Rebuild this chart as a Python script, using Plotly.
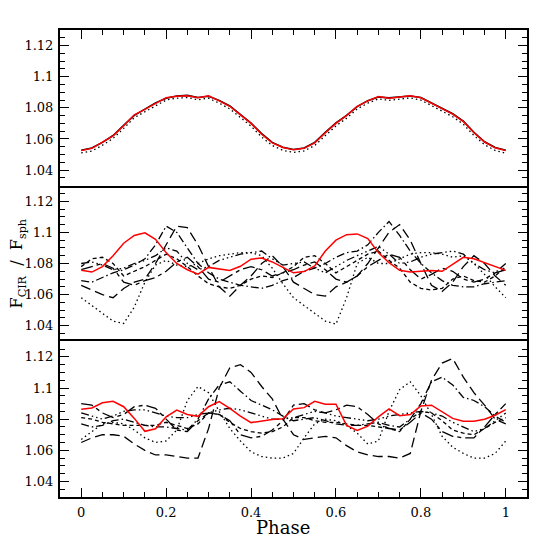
#!/usr/bin/env python3
"""
Flux ratio F_CIR / F_sph versus rotational phase, three stacked panels
"""

import plotly.graph_objs as go
from plotly.subplots import make_subplots

# phase grid shared by all curves
phase = [0.0, 0.025, 0.05, 0.075, 0.1, 0.125, 0.15, 0.175, 0.2, 0.225,
         0.25, 0.275, 0.3, 0.325, 0.35, 0.375, 0.4, 0.425, 0.45, 0.475,
         0.5, 0.525, 0.55, 0.575, 0.6, 0.625, 0.65, 0.675, 0.7, 0.725,
         0.75, 0.775, 0.8, 0.825, 0.85, 0.875, 0.9, 0.925, 0.95, 0.975, 1.0]

# --- top panel
top_red = [1.0525, 1.0540, 1.0580, 1.0620, 1.0685, 1.0755, 1.0790, 1.0830, 1.0865, 1.0875,
           1.0878, 1.0865, 1.0877, 1.0845, 1.0810, 1.0755, 1.0700, 1.0630, 1.0575, 1.0545,
           1.0530, 1.0540, 1.0575, 1.0640, 1.0700, 1.0750, 1.0810, 1.0845, 1.0872, 1.0862,
           1.0870, 1.0878, 1.0865, 1.0830, 1.0795, 1.0760, 1.0712, 1.0640, 1.0580, 1.0543, 1.0525]
top_black = [1.0528, 1.0542, 1.0578, 1.0622, 1.0688, 1.0752, 1.0792, 1.0832, 1.0862, 1.0876,
             1.0880, 1.0866, 1.0874, 1.0848, 1.0812, 1.0758, 1.0702, 1.0634, 1.0578, 1.0547,
             1.0532, 1.0542, 1.0578, 1.0642, 1.0703, 1.0752, 1.0808, 1.0846, 1.0870, 1.0864,
             1.0872, 1.0876, 1.0866, 1.0832, 1.0798, 1.0762, 1.0715, 1.0643, 1.0582, 1.0545, 1.0528]
top_dot = [1.0510, 1.0522, 1.0560, 1.0603, 1.0668, 1.0737, 1.0775, 1.0815, 1.0850, 1.0862,
           1.0866, 1.0852, 1.0862, 1.0830, 1.0793, 1.0738, 1.0682, 1.0612, 1.0558, 1.0527,
           1.0514, 1.0523, 1.0558, 1.0622, 1.0684, 1.0733, 1.0793, 1.0830, 1.0857, 1.0848,
           1.0857, 1.0864, 1.0850, 1.0815, 1.0779, 1.0743, 1.0695, 1.0622, 1.0563, 1.0526, 1.0508]

# --- middle panel
mid_red = [1.0756, 1.0745, 1.0780, 1.0850, 1.0930, 1.0980, 1.0997, 1.0955, 1.0870, 1.0800,
           1.0760, 1.0731, 1.0775, 1.0763, 1.0755, 1.0782, 1.0828, 1.0835, 1.0810, 1.0775,
           1.0740, 1.0748, 1.0785, 1.0880, 1.0950, 1.0985, 1.0990, 1.0960, 1.0870, 1.0805,
           1.0756, 1.0745, 1.0752, 1.0755, 1.0750, 1.0795, 1.0840, 1.0830, 1.0805, 1.0780, 1.0756]
mid_dot = [1.058, 1.053, 1.048, 1.043, 1.0415, 1.052, 1.068, 1.079, 1.082, 1.079,
           1.078, 1.080, 1.083, 1.085, 1.086, 1.087, 1.087, 1.085, 1.077, 1.067,
           1.058, 1.053, 1.048, 1.043, 1.041, 1.058, 1.080, 1.084, 1.080, 1.080,
           1.083, 1.086, 1.087, 1.087, 1.086, 1.084, 1.085, 1.080, 1.073, 1.065, 1.058]
mid_longdash = [1.066, 1.063, 1.060, 1.058, 1.064, 1.068, 1.070, 1.080, 1.092, 1.104,
                1.103, 1.092, 1.078, 1.065, 1.059, 1.066, 1.072, 1.080, 1.085, 1.078,
                1.068, 1.064, 1.060, 1.059, 1.065, 1.068, 1.072, 1.080, 1.090, 1.100,
                1.105, 1.095, 1.080, 1.066, 1.062, 1.068, 1.078, 1.085, 1.080, 1.072, 1.066]
mid_dashdot = [1.069, 1.068, 1.071, 1.074, 1.076, 1.079, 1.083, 1.092, 1.104, 1.100,
               1.090, 1.080, 1.074, 1.070, 1.068, 1.066, 1.065, 1.064, 1.066, 1.069,
               1.071, 1.075, 1.077, 1.080, 1.084, 1.087, 1.088, 1.092, 1.100, 1.107,
               1.098, 1.088, 1.080, 1.074, 1.069, 1.066, 1.065, 1.065, 1.067, 1.068, 1.069]
mid_shortdash = [1.078, 1.083, 1.084, 1.080, 1.072, 1.075, 1.078, 1.082, 1.086, 1.083,
                 1.078, 1.072, 1.067, 1.065, 1.064, 1.066, 1.070, 1.072, 1.071, 1.074,
                 1.078, 1.084, 1.085, 1.080, 1.074, 1.078, 1.082, 1.086, 1.088, 1.082,
                 1.077, 1.068, 1.064, 1.063, 1.064, 1.070, 1.072, 1.069, 1.068, 1.072, 1.078]
mid_dash3dot = [1.080, 1.081, 1.079, 1.076, 1.077, 1.080, 1.082, 1.085, 1.090, 1.088,
                1.080, 1.076, 1.078, 1.082, 1.084, 1.086, 1.087, 1.088, 1.083, 1.079,
                1.080, 1.081, 1.077, 1.074, 1.078, 1.082, 1.085, 1.088, 1.091, 1.086,
                1.080, 1.081, 1.084, 1.086, 1.087, 1.088, 1.086, 1.080, 1.076, 1.074, 1.080]
mid_longshort = [1.076, 1.078, 1.080, 1.077, 1.068, 1.066, 1.069, 1.071, 1.075, 1.081,
                 1.084, 1.078, 1.070, 1.068, 1.072, 1.076, 1.078, 1.076, 1.072, 1.074,
                 1.076, 1.079, 1.081, 1.076, 1.070, 1.068, 1.072, 1.078, 1.082, 1.086,
                 1.084, 1.076, 1.070, 1.073, 1.077, 1.075, 1.070, 1.068, 1.070, 1.074, 1.076]

# --- bottom panel
bot_red = [1.0863, 1.0872, 1.0905, 1.0915, 1.0880, 1.0805, 1.0722, 1.0738, 1.0815, 1.0858,
           1.0830, 1.0818, 1.0880, 1.0913, 1.0870, 1.0820, 1.0778, 1.0790, 1.0798, 1.0803,
           1.0865, 1.0874, 1.0915, 1.0896, 1.0896, 1.0760, 1.0728, 1.0755, 1.0815, 1.0866,
           1.0822, 1.0830, 1.0885, 1.0890, 1.0850, 1.0805, 1.0786, 1.0786, 1.0800, 1.0825, 1.0861]
bot_dot = [1.067, 1.072, 1.077, 1.078, 1.077, 1.073, 1.068, 1.065, 1.066, 1.073,
           1.092, 1.101, 1.097, 1.085, 1.074, 1.066, 1.059, 1.056, 1.055, 1.055,
           1.058, 1.068, 1.077, 1.080, 1.079, 1.076, 1.071, 1.064, 1.066, 1.085,
           1.099, 1.104, 1.095, 1.083, 1.069, 1.062, 1.058, 1.055, 1.055, 1.058, 1.066]
bot_longdash = [1.065, 1.068, 1.070, 1.070, 1.069, 1.064, 1.060, 1.057, 1.057, 1.056,
                1.055, 1.055, 1.074, 1.100, 1.113, 1.115, 1.110, 1.101, 1.093, 1.080,
                1.070, 1.067, 1.068, 1.069, 1.068, 1.063, 1.059, 1.057, 1.056, 1.056,
                1.055, 1.058, 1.085, 1.105, 1.116, 1.119, 1.107, 1.097, 1.089, 1.080, 1.077]
bot_dashdot = [1.077, 1.075, 1.076, 1.079, 1.080, 1.078, 1.076, 1.075, 1.075, 1.074,
               1.073, 1.080, 1.093, 1.102, 1.104, 1.098, 1.092, 1.089, 1.086, 1.082,
               1.079, 1.080, 1.081, 1.079, 1.077, 1.076, 1.076, 1.077, 1.078, 1.076,
               1.075, 1.080, 1.090, 1.104, 1.107, 1.102, 1.094, 1.092, 1.088, 1.082, 1.078]
bot_longshort = [1.090, 1.089, 1.084, 1.081, 1.083, 1.088, 1.089, 1.087, 1.080, 1.073,
                 1.072, 1.079, 1.084, 1.083, 1.079, 1.070, 1.068, 1.069, 1.073, 1.079,
                 1.089, 1.090, 1.086, 1.084, 1.086, 1.089, 1.088, 1.083, 1.077, 1.074,
                 1.073, 1.078, 1.084, 1.080, 1.072, 1.069, 1.068, 1.068, 1.075, 1.083, 1.090]
bot_dash3dot = [1.084, 1.082, 1.080, 1.082, 1.085, 1.086, 1.086, 1.084, 1.082, 1.081,
                1.081, 1.083, 1.084, 1.086, 1.087, 1.086, 1.084, 1.082, 1.080, 1.080,
                1.081, 1.083, 1.085, 1.084, 1.082, 1.081, 1.080, 1.079, 1.080, 1.082,
                1.083, 1.084, 1.085, 1.084, 1.082, 1.078, 1.075, 1.072, 1.074, 1.079, 1.084]
bot_shortdash = [1.081, 1.080, 1.078, 1.077, 1.076, 1.076, 1.076, 1.076, 1.078, 1.076,
                 1.074, 1.077, 1.084, 1.083, 1.078, 1.074, 1.072, 1.071, 1.072, 1.075,
                 1.081, 1.081, 1.079, 1.078, 1.078, 1.077, 1.076, 1.076, 1.075, 1.074,
                 1.072, 1.080, 1.085, 1.084, 1.079, 1.073, 1.071, 1.070, 1.074, 1.078, 1.081]

# axis ticks
x_tickvals = [0, 0.2, 0.4, 0.6, 0.8, 1]
x_ticktext = ['0', '0.2', '0.4', '0.6', '0.8', '1']
y_tickvals = [1.04, 1.06, 1.08, 1.1, 1.12]
y_ticktext = ['1.04', '1.06', '1.08', '1.1', '1.12']

# dash patterns
DOT = '1.5px,3px'
SHORT = '4px,3px'
LONG = '10px,5px'
DASHDOT = '8px,3px,1.5px,3px'
DASH3DOT = '8px,3px,1.5px,3px,1.5px,3px,1.5px,3px'
LONGSHORT = '12px,4px,4px,4px'

FONT = 'DejaVu Serif'
RED = '#ff0000'

fig = make_subplots(rows=3, cols=1, shared_xaxes=True, vertical_spacing=0)


def add_line(y, row, dash='solid', color='black', width=1.3):
    fig.add_trace(go.Scatter(
        x=phase, y=y, mode='lines',
        line=dict(color=color, width=width, dash=dash),
        showlegend=False, hoverinfo='skip'
    ), row=row, col=1)


# top
add_line(top_dot, 1, DOT)
add_line(top_black, 1, 'solid', width=1.6)
add_line(top_red, 1, 'solid', color=RED, width=1.5)

# middle
add_line(mid_dot, 2, DOT)
add_line(mid_longdash, 2, LONG)
add_line(mid_dashdot, 2, DASHDOT)
add_line(mid_shortdash, 2, SHORT)
add_line(mid_dash3dot, 2, DASH3DOT)
add_line(mid_longshort, 2, LONGSHORT)
add_line(mid_red, 2, 'solid', color=RED, width=1.5)

# bottom
add_line(bot_dot, 3, DOT)
add_line(bot_longdash, 3, LONG)
add_line(bot_dashdot, 3, DASHDOT)
add_line(bot_longshort, 3, LONGSHORT)
add_line(bot_dash3dot, 3, DASH3DOT)
add_line(bot_shortdash, 3, SHORT)
add_line(bot_red, 3, 'solid', color=RED, width=1.5)

for r in (1, 2, 3):
    fig.update_yaxes(
        range=[1.03, 1.13], tickmode='array', tickvals=y_tickvals, ticktext=y_ticktext,
        ticks='inside', ticklen=9, tickwidth=1.2, tickcolor='black',
        minor=dict(tickmode='linear', tick0=1.03, dtick=0.005, ticks='inside',
                   ticklen=5, tickwidth=1.2, tickcolor='black', showgrid=False),
        showline=True, linecolor='black', linewidth=2, mirror='ticks',
        showgrid=False, zeroline=False, ticklabelstandoff=2,
        tickfont=dict(family=FONT, size=13, color='black'),
        row=r, col=1
    )

x_range = [-0.05, 1.05]

# top panel: ticks along the upper frame, line drawn top and bottom
fig.update_xaxes(
    range=x_range, side='top', showticklabels=False, ticks='inside', ticklen=9,
    tickwidth=1.2, tickcolor='black', tickmode='array', tickvals=x_tickvals,
    minor=dict(tickmode='linear', tick0=0, dtick=0.05, ticks='inside',
               ticklen=5, tickwidth=1.2, tickcolor='black', showgrid=False),
    showline=True, linecolor='black', linewidth=2, mirror=True,
    showgrid=False, zeroline=False, row=1, col=1
)
# middle panel: frame lines come from its neighbours
fig.update_xaxes(range=x_range, ticks='', showticklabels=False, showline=False,
                 showgrid=False, zeroline=False, row=2, col=1)
# bottom panel: labelled ticks
fig.update_xaxes(
    range=x_range, ticks='inside', ticklen=9, tickwidth=1.2, tickcolor='black',
    tickmode='array', tickvals=x_tickvals, ticktext=x_ticktext,
    minor=dict(tickmode='linear', tick0=0, dtick=0.05, ticks='inside',
               ticklen=5, tickwidth=1.2, tickcolor='black', showgrid=False),
    showticklabels=True, ticklabelstandoff=2,
    tickfont=dict(family=FONT, size=13, color='black'),
    showline=True, linecolor='black', linewidth=2, mirror=True,
    showgrid=False, zeroline=False, row=3, col=1
)

# axis titles
fig.add_annotation(
    text='Phase', xref='paper', yref='paper', x=0.478, y=-0.066,
    xanchor='center', yanchor='middle', showarrow=False,
    font=dict(family=FONT, size=18, color='black')
)
fig.add_annotation(
    text='F<sub>CIR</sub>  /  F<sub>sph</sub>', xref='paper', yref='paper',
    x=-0.09, y=0.5, xanchor='center', yanchor='middle', textangle=-90,
    showarrow=False, font=dict(family=FONT, size=16, color='black')
)

# page body adds an 8px margin, so the figure is 548 px and margins are trimmed
fig.update_layout(
    width=548, height=548,
    margin=dict(l=52, r=29, t=22, b=59),
    plot_bgcolor='white', paper_bgcolor='white',
    showlegend=False
)

fig.write_html("out.html")
